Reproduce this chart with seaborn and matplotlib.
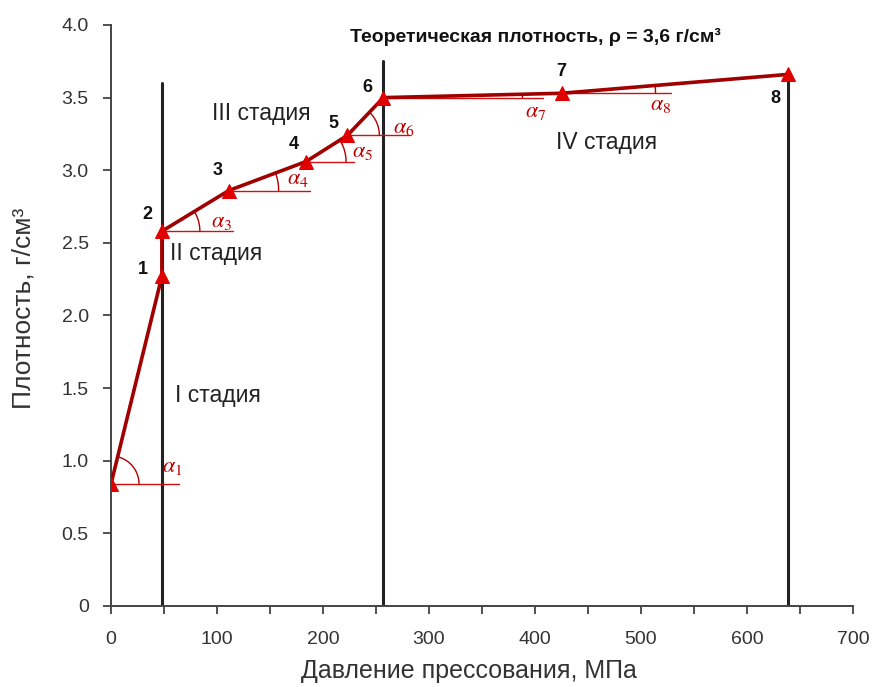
import numpy as np
import pandas as pd
import matplotlib
matplotlib.use("Agg")
import matplotlib.pyplot as plt
import seaborn as sns

# ---- data ----
pressure = [0, 48, 48, 111, 184, 223, 257, 425, 639]
density = [0.84, 2.27, 2.58, 2.86, 3.06, 3.24, 3.50, 3.53, 3.66]
point_labels = ["", "1", "2", "3", "4", "5", "6", "7", "8"]
stage_bounds = [48, 257, 639]
stage_tops = [3.60, 3.75, 3.66]
stage_names = ["I стадия", "II стадия", "III стадия", "IV стадия"]
stage_pos = [(60, 1.45), (56, 2.43), (95, 3.39), (420, 3.19)]
angle_names = [r"$\alpha_1$", r"$\alpha_3$", r"$\alpha_4$", r"$\alpha_5$",
               r"$\alpha_6$", r"$\alpha_7$", r"$\alpha_8$"]
angle_vertex = [0, 2, 3, 4, 5, 6, 7]       # index of vertex point
angle_line_end = [64, 115, 188, 229, 282, 408, 528]
title_text = "Теоретическая плотность, ρ = 3,6 г/см³"
x_ticks = [0, 100, 200, 300, 400, 500, 600, 700]
y_ticks = [0, 0.5, 1.0, 1.5, 2.0, 2.5, 3.0, 3.5, 4.0]
y_ticklabels = ["0", "0.5", "1.0", "1.5", "2.0", "2.5", "3.0", "3.5", "4.0"]

# ---- style / layout ----
label_offsets = [(0, 0), (-19, 7), (-15, 17), (-11, 20), (-12, 17),
                 (-14, 12), (-16, 10), (0, 22), (-13, -24)]
alpha_offsets = [(61, 17), (60, 10), (69, 12), (57, 10), (56, 8), (152, -14), (99, -11)]
arc_radii = [28, 38, 50, 40, 32, 139, 94]

sns.set_style("ticks")
plt.rcParams["font.family"] = ["Liberation Sans", "DejaVu Sans"]
plt.rcParams["mathtext.fontset"] = "stix"

fig = plt.figure(figsize=(8.77, 6.87), dpi=100)
ax = fig.add_axes([111 / 877, 1 - 606 / 687, (853 - 111) / 877, (606 - 25) / 687])
ax.set_xlim(0, 700)
ax.set_ylim(0, 4.0)

df = pd.DataFrame({"p": pressure, "d": density})

# stage boundaries
for xb, yt in zip(stage_bounds, stage_tops):
    ax.plot([xb, xb], [0, yt], color="#222222", lw=2.2, zorder=2)

# horizontal reference lines
for vi, xe in zip(angle_vertex, angle_line_end):
    ax.plot([pressure[vi], xe], [density[vi], density[vi]], color="#D01010", lw=1.0, zorder=3)

sns.lineplot(data=df, x="p", y="d", sort=False, estimator=None, color="#A00000",
             lw=2.6, marker="^", markersize=10, markerfacecolor="#E00000",
             markeredgecolor="#E00000", ax=ax, zorder=4)

# angle arcs (computed in display space)
for k, (vi, r) in enumerate(zip(angle_vertex, arc_radii)):
    vx, vy = ax.transData.transform((pressure[vi], density[vi]))
    if vi == 0:
        nx, ny = ax.transData.transform((pressure[1], density[1]))
    else:
        nx, ny = ax.transData.transform((pressure[vi + 1], density[vi + 1]))
    ang = np.arctan2(ny - vy, nx - vx)
    t = np.linspace(0, ang, 40)
    pts = np.column_stack([vx + r * np.cos(t), vy + r * np.sin(t)])
    dpts = ax.transData.inverted().transform(pts)
    ax.plot(dpts[:, 0], dpts[:, 1], color="#B00000", lw=1.0, zorder=3)

# point numbers
for x, y, lab, off in zip(pressure, density, point_labels, label_offsets):
    if lab:
        ax.annotate(lab, (x, y), xytext=off, textcoords="offset pixels",
                    ha="center", va="center", fontsize=13, fontweight="bold", color="#111111")

# alpha labels
for name, vi, off in zip(angle_names, angle_vertex, alpha_offsets):
    ax.annotate(name, (pressure[vi], density[vi]), xytext=off, textcoords="offset pixels",
                ha="center", va="center", fontsize=16, color="#C00000")

# stage names
for name, (sx, sy) in zip(stage_names, stage_pos):
    ax.text(sx, sy, name, ha="left", va="center", fontsize=16.5, color="#222222")

ax.text(400, 3.92, title_text, ha="center", va="center", fontsize=14,
        fontweight="bold", color="#111111")

ax.set_xticks(x_ticks)
ax.set_xticks([50, 150, 250, 350, 450, 550, 650], minor=True)
ax.set_yticks(y_ticks)
ax.set_yticklabels(y_ticklabels)
ax.tick_params(axis="both", which="both", direction="out", length=6, width=1.2,
               colors="#333333", labelsize=14, labelcolor="#333333")
ax.tick_params(axis="x", pad=12)
ax.tick_params(axis="y", pad=10)
for s in ["left", "bottom"]:
    ax.spines[s].set_color("#444444")
    ax.spines[s].set_linewidth(1.4)
sns.despine(ax=ax)

ax.set_xlabel("Давление прессования, МПа", fontsize=18, color="#333333")
ax.set_ylabel("Плотность, г/см³", fontsize=19, color="#333333")
ax.xaxis.set_label_coords(0.482, -0.092)
ax.yaxis.set_label_coords(-0.102, 0.513)

fig.savefig("out.png", dpi=100)
